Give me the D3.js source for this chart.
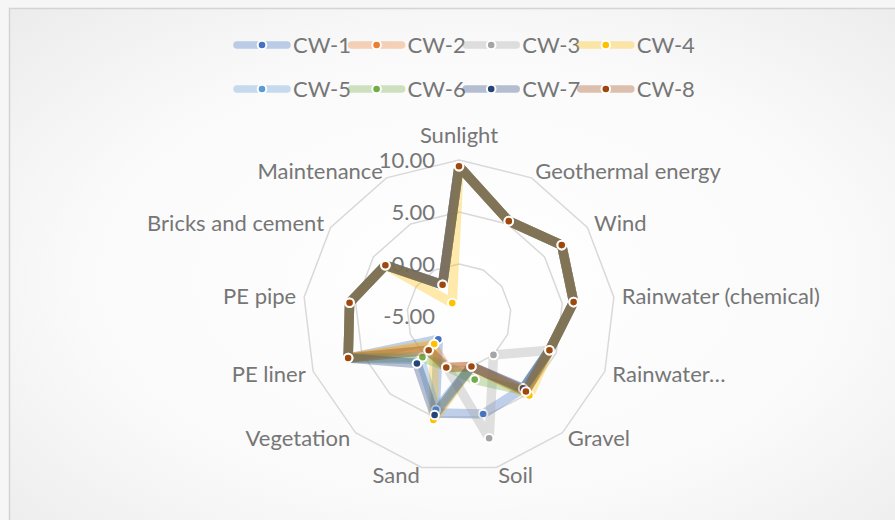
<!DOCTYPE html>
<html>
<head>
<meta charset="utf-8">
<script src="https://cdn.jsdelivr.net/npm/d3@7"></script>
<style>
  html, body { margin: 0; padding: 0; background: #f6f6f6; }
  svg { display: block; }
  text { font-family: Lato, "Noto Sans", sans-serif; fill: #767676; }
</style>
</head>
<body>
<svg id="chart" width="895" height="520"></svg>
<script>
// Radar axes (clockwise from the top)
const categories = [
  "Sunlight", "Geothermal energy", "Wind", "Rainwater (chemical)", "Rainwater…",
  "Gravel", "Soil", "Sand", "Vegetation", "PE liner", "PE pipe",
  "Bricks and cement", "Maintenance"
];

const seriesNames = ["CW-1", "CW-2", "CW-3", "CW-4", "CW-5", "CW-6", "CW-7", "CW-8"];
const seriesColors = ["#4472C4", "#ED7D31", "#A5A5A5", "#FFC000", "#5B9BD5", "#70AD47", "#264478", "#9E480E"];

// Scores per wetland, in the order of the categories above
const cw1 = [9.4, 5.3, 7.0, 6.1, 4.3, 4.3, 4.7, 4.6, -2.0, 6.4, 5.6, 3.6, -1.6];
const cw2 = [9.4, 5.3, 7.0, 6.1, 4.3, 4.6, 0.0, 0.1, -1.2, 6.4, 5.6, 3.6, -1.6];
const cw3 = [9.4, 5.3, 7.0, 6.1, 4.3, 0.0, 7.1, 0.0, -0.6, 6.4, 5.6, 3.6, -1.6];
const cw4 = [9.4, 5.3, 7.0, 6.1, 4.3, 5.2, 0.0, 5.3, -1.4, 6.4, 5.6, 3.6, -3.6];
const cw5 = [9.4, 5.3, 7.0, 6.1, 4.3, 4.4, 0.0, 4.3, 0.6, 6.4, 5.6, 3.6, -1.6];
const cw6 = [9.4, 5.3, 7.0, 6.1, 4.3, 4.6, 1.3, 0.0, 0.3, 6.4, 5.6, 3.6, -1.6];
const cw7 = [9.4, 5.3, 7.0, 6.1, 4.3, 4.3, 0.0, 4.8, 1.1, 6.4, 5.6, 3.6, -1.6];
const cw8 = [9.4, 5.3, 7.0, 6.1, 4.3, 4.7, 0.0, 0.1, -0.6, 6.4, 5.6, 3.6, -1.6];

const radialTicks = [-5, 0, 5, 10];

const series = seriesNames.map((name, i) => ({
  name,
  color: seriesColors[i],
  values: [cw1, cw2, cw3, cw4, cw5, cw6, cw7, cw8][i]
}));

const svg = d3.select("#chart");
const W = 895, H = 520;

// Background panel with a soft radial shading
const defs = svg.append("defs");
const grad = defs.append("radialGradient").attr("id", "bg")
  .attr("cx", "50%").attr("cy", "50%").attr("r", "70%");
grad.append("stop").attr("offset", "0%").attr("stop-color", "#ffffff");
grad.append("stop").attr("offset", "60%").attr("stop-color", "#fafafa");
grad.append("stop").attr("offset", "100%").attr("stop-color", "#ececec");

svg.append("rect")
  .attr("x", 9.5).attr("y", 8.5)
  .attr("width", W + 20).attr("height", H + 20)
  .attr("fill", "url(#bg)")
  .attr("stroke", "#d4d4d4").attr("stroke-width", 1.5);

const cx = 459, cy = 316, R = 156;
const fontSize = 22;
const markerR = 4.3;

const r = d3.scaleLinear().domain([-5, 10]).range([0, R]);
const step = 2 * Math.PI / categories.length;
const angle = i => i * step;

const g = svg.append("g").attr("transform", `translate(${cx},${cy})`);

// Grid polygons
const ringLine = d3.lineRadial()
  .angle((d, i) => angle(i))
  .radius(d => r(d))
  .curve(d3.curveLinearClosed);

g.append("g").selectAll("path")
  .data(radialTicks.filter(t => t > -5))
  .join("path")
  .attr("d", t => ringLine(categories.map(() => t)))
  .attr("fill", "none")
  .attr("stroke", "#d9d9d9")
  .attr("stroke-width", 1.5);

// Value labels along the Sunlight axis (plain hyphen for negatives)
const fmt = d3.formatLocale({ decimal: ".", thousands: ",", grouping: [3], currency: ["", ""], minus: "-" }).format(".2f");
g.append("g").selectAll("text")
  .data(radialTicks)
  .join("text")
  .attr("x", -24)
  .attr("y", t => -r(t))
  .attr("dy", "0.35em")
  .attr("text-anchor", "end")
  .attr("font-size", fontSize)
  .text(t => fmt(t));

// Category labels just outside the outer ring
const pad = 8;
g.append("g").selectAll("text")
  .data(categories)
  .join("text")
  .attr("font-size", fontSize)
  .each(function (d, i) {
    const a = angle(i), s = Math.sin(a), c = Math.cos(a);
    let x = (R + pad) * s, y = -(R + pad) * c;
    let anchor = "middle";
    if (s > 0.1) anchor = "start";
    else if (s < -0.1) anchor = "end";
    if (anchor === "middle") y -= (c > 0 ? 1 : -1) * fontSize * 0.75;
    d3.select(this)
      .attr("x", x).attr("y", y)
      .attr("dy", "0.35em")
      .attr("text-anchor", anchor)
      .text(d);
  });

// Series: translucent thick outlines with solid markers
const seriesLine = d3.lineRadial()
  .angle((d, i) => angle(i))
  .radius(d => r(d))
  .curve(d3.curveLinearClosed);

const sg = g.append("g").selectAll("g")
  .data(series)
  .join("g");

sg.append("path")
  .attr("d", d => seriesLine(d.values))
  .attr("fill", "none")
  .attr("stroke", d => d.color)
  .attr("stroke-opacity", 0.33)
  .attr("stroke-width", 9.5)
  .attr("stroke-linejoin", "round")
  .attr("stroke-linecap", "round");

sg.selectAll("circle")
  .data(d => d.values.map((v, i) => ({ v, i, color: d.color })))
  .join("circle")
  .attr("cx", d => r(d.v) * Math.sin(angle(d.i)))
  .attr("cy", d => -r(d.v) * Math.cos(angle(d.i)))
  .attr("r", markerR)
  .attr("fill", d => d.color)
  .attr("stroke", "#ffffff")
  .attr("stroke-width", 2);

// Legend: two rows of four
const legendX0 = 233, legendDX = 114.6, legendRows = [45, 89], lineLen = 58;
const lg = svg.append("g").selectAll("g")
  .data(series)
  .join("g")
  .attr("transform", (d, i) => `translate(${legendX0 + (i % 4) * legendDX},${legendRows[Math.floor(i / 4)]})`);

lg.append("line")
  .attr("x1", 4).attr("x2", lineLen - 4)
  .attr("stroke", d => d.color)
  .attr("stroke-opacity", 0.33)
  .attr("stroke-width", 7.5)
  .attr("stroke-linecap", "round");

lg.append("circle")
  .attr("cx", lineLen / 2)
  .attr("r", markerR)
  .attr("fill", d => d.color)
  .attr("stroke", "#ffffff")
  .attr("stroke-width", 2);

lg.append("text")
  .attr("x", lineLen + 2)
  .attr("dy", "0.35em")
  .attr("font-size", fontSize)
  .text(d => d.name);
</script>
</body>
</html>
